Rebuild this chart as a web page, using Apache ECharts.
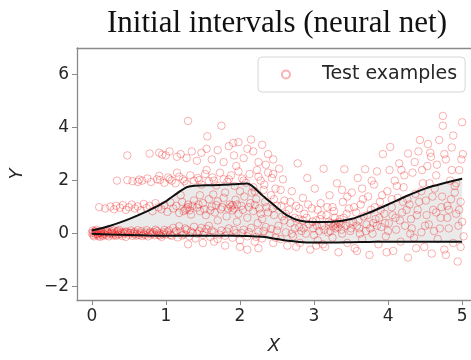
<!DOCTYPE html>
<html>
<head>
<meta charset="utf-8">
<script src="https://cdn.jsdelivr.net/npm/echarts@6/dist/echarts.min.js"></script>
<style>
  html, body { margin: 0; padding: 0; background: #fff; }
  #chart { width: 471px; height: 360px; }
</style>
</head>
<body>
<div id="chart"></div>
<script>
// interval curves
var curveX = [0, 0.25, 0.5, 0.75, 1.0, 1.15, 1.3, 1.6, 1.9, 2.1, 2.3, 2.5, 2.65, 2.8, 3.0, 3.25, 3.5, 3.75, 4.0, 4.25, 4.5, 4.75, 5.0];
var upperY = [0.12, 0.3, 0.55, 0.85, 1.22, 1.52, 1.77, 1.83, 1.86, 1.89, 1.45, 0.98, 0.67, 0.5, 0.44, 0.45, 0.55, 0.8, 1.1, 1.42, 1.7, 1.9, 2.07];
var lowerY = [0.0, -0.03, -0.05, -0.07, -0.08, -0.08, -0.08, -0.08, -0.08, -0.09, -0.12, -0.2, -0.27, -0.31, -0.33, -0.33, -0.32, -0.31, -0.3, -0.3, -0.3, -0.3, -0.3];

// test examples
var band0 = [[0.00,0.02],[0.02,-0.05],[0.04,0.08],[0.05,-0.02],[0.07,0.05],[0.09,-0.08],[0.10,0.03],[0.12,0.10],[0.14,-0.04],[0.16,0.01],[0.18,0.07],[0.20,-0.06],[0.22,0.04],[0.24,-0.01],[0.27,0.09],[0.29,-0.07],[0.31,0.02],[0.34,0.06],[0.36,-0.03],[0.39,0.05],[0.41,-0.09],[0.44,0.01],[0.47,0.08],[0.50,-0.04],[0.52,0.03],[0.55,-0.08],[0.58,0.06],[0.61,0.00],[0.64,-0.05],[0.67,0.09],[0.70,-0.02],[0.73,0.04],[0.76,-0.10],[0.79,0.07],[0.82,0.01],[0.85,-0.06],[0.88,0.10],[0.91,0.02],[0.94,-0.12],[0.97,0.05],[1.00,-0.03],[1.04,0.12],[1.08,-0.08],[1.12,0.04],[1.16,-0.14],[1.20,0.08],[1.24,-0.02],[1.28,0.15],[1.32,-0.10],[1.36,0.03],[1.40,-0.18],[1.45,0.10],[1.50,-0.05],[1.55,0.18],[1.60,-0.12],[1.65,0.05],[1.70,-0.20],[1.75,0.12],[1.80,-0.08],[1.85,0.20],[1.90,-0.15],[1.95,0.02],[2.00,-0.25],[2.05,0.15],[2.10,-0.10],[2.15,0.22],[2.20,-0.30],[2.25,0.08],[2.30,-0.18],[2.35,0.25],[2.40,-0.05],[2.45,-0.35],[2.50,0.12],[0.01,0.12],[0.03,-0.10],[0.06,0.15],[0.08,0.00],[0.11,-0.12],[0.13,0.06],[0.15,-0.09],[0.19,0.12],[0.23,-0.10],[0.26,0.03],[0.30,0.12],[0.33,-0.08],[0.37,0.14],[0.42,0.04],[0.46,-0.12],[0.53,0.12],[0.57,-0.01],[0.62,0.13],[0.68,-0.09],[0.74,0.13],[0.80,-0.03],[0.86,0.15],[0.92,-0.07],[0.98,0.14],[1.10,0.22],[1.18,0.28],[1.26,0.20],[1.38,0.26],[1.48,0.22],[1.58,0.30],[1.30,-0.40],[1.50,-0.35],[1.80,-0.45],[2.00,-0.50],[2.10,-0.60],[1.65,-0.30],[2.25,-0.55],
  [0.02,0.05],[0.05,0.10],[0.08,-0.04],[0.12,0.02],[0.17,-0.02],[0.21,0.09],[0.28,0.00],[0.32,-0.04],[0.35,0.10],[0.40,-0.02],[0.45,0.07],[0.49,0.03],[0.56,0.04],[0.60,-0.07],[0.66,0.02],[0.72,-0.05],[0.78,0.02],[0.84,0.05],[0.90,-0.04],[0.96,-0.02],[1.02,0.06],[1.06,-0.05],[1.14,0.10],[1.22,-0.07],[1.34,0.08],[1.42,0.00],[1.52,0.05],[1.62,0.12],[1.72,-0.03],[1.82,0.08],[1.92,0.14],[2.02,0.02],[2.12,0.06],[2.22,-0.12],[2.32,0.10],[2.42,0.18],[2.48,-0.15]];
var band1 = [[0.10,1.00],[0.18,0.95],[0.25,1.02],[0.30,0.92],[0.33,1.05],[0.38,0.98],[0.42,1.08],[0.46,0.90],[0.50,1.00],[0.54,1.10],[0.58,0.95],[0.62,1.03],[0.66,0.88],[0.70,1.12],[0.74,0.97],[0.78,1.05],[0.82,0.85],[0.86,1.15],[0.90,1.00],[0.94,0.92],[0.98,1.08],[1.02,0.82],[1.06,1.18],[1.10,0.95],[1.14,1.05],[1.18,0.78],[1.22,1.20],[1.26,0.90],[1.30,1.10],[1.34,0.72],[1.38,1.25],[1.42,0.98],[1.46,0.85],[1.50,1.15],[1.54,0.70],[1.58,1.30],[1.62,1.02],[1.66,0.80],[1.70,1.22],[1.74,0.92],[1.78,1.35],[1.82,0.65],[1.86,1.10],[1.90,0.88],[1.94,1.28],[1.98,0.75],[2.02,1.05],[2.06,1.40],[2.10,0.60],[2.14,1.15],[2.18,0.85],[2.22,1.30],[2.26,0.95],[2.30,0.55],[2.34,1.20],[2.38,0.80],[2.42,1.45],[2.46,0.70],[2.50,1.05],[1.28,0.95],[1.32,0.88],[1.30,1.00],[1.88,1.02],[1.92,0.95],[1.90,1.08],
  [1.24,0.85],[1.36,1.05],[1.44,1.10],[1.52,0.92],[1.60,0.88],[1.68,1.08],[1.76,1.00],[1.84,0.95],[1.96,1.10],[2.04,0.90],[2.12,1.00],[2.20,1.08],[2.28,0.75],[2.36,1.00],[2.44,0.95],[1.64,1.48],[1.80,1.55],[2.00,1.60],[2.16,1.55],[2.32,1.65],[1.46,1.45],[2.46,1.30],[1.20,1.45],[1.70,0.50],[1.96,0.45],[2.24,0.40]];
var band2 = [[0.34,2.00],[0.48,2.02],[0.55,1.98],[0.64,2.04],[0.68,2.00],[0.75,2.08],[0.80,1.95],[0.91,2.18],[0.92,2.02],[0.98,1.92],[1.03,2.12],[1.08,2.00],[1.13,1.90],[1.18,2.15],[1.23,2.05],[1.28,1.88],[1.33,2.20],[1.38,2.00],[1.43,2.10],[1.48,1.85],[1.53,2.25],[1.58,1.98],[1.63,2.12],[1.68,1.82],[1.73,2.30],[1.78,2.05],[1.83,1.95],[1.88,2.20],[1.93,1.80],[1.98,2.35],[2.03,2.08],[2.08,1.92],[2.13,2.25],[2.18,1.75],[2.23,2.40],[2.28,2.00],[2.33,1.85],[2.38,2.30],[2.43,2.10],[2.48,1.70],[2.53,2.45],[2.58,2.05],
  [1.05,2.05],[1.25,1.98],[1.45,2.02],[1.65,2.00],[1.85,2.05],[2.05,2.00],[2.25,2.15],[2.45,2.25],[1.15,2.30],[1.55,2.40],[1.95,2.55],[2.35,2.60],[2.20,1.60],[2.55,1.65],[0.62,1.95],[0.88,2.05]];
var band3 = [[0.48,2.95],[0.78,3.02],[0.91,3.05],[0.95,2.98],[1.00,2.95],[1.05,3.10],[1.15,2.90],[1.20,3.00],[1.28,2.85],[1.35,3.10],[1.42,2.75],[1.48,3.05],[1.55,3.20],[1.62,2.80],[1.70,3.15],[1.78,2.70],[1.85,3.30],[1.92,2.95],[1.98,3.45],[2.05,2.85],[2.10,3.20],[2.18,3.10],[2.25,2.70],[2.30,3.35],[2.38,3.00],[2.45,2.80],[1.30,4.25],[1.75,4.07],[1.56,3.67],[1.91,3.42],[2.15,3.55]];
var cloud = [[2.52,0.30],[2.55,-0.20],[2.57,0.65],[2.60,1.25],[2.62,0.05],[2.64,-0.45],[2.66,0.90],[2.68,0.40],[2.70,1.60],[2.72,-0.10],[2.74,0.20],[2.76,1.05],[2.78,2.65],[2.79,0.55],[2.81,-0.35],[2.83,0.10],[2.85,1.35],[2.87,0.75],[2.89,0.00],[2.91,2.10],[2.93,0.35],[2.95,-0.60],[2.97,0.95],[2.99,0.20],[3.01,1.70],[3.03,0.50],[3.05,-0.25],[3.07,0.10],[3.09,1.15],[3.11,0.30],[3.13,2.45],[3.15,-0.50],[3.17,0.70],[3.19,0.05],[3.21,1.45],[3.23,0.40],[3.25,-0.15],[3.27,0.85],[3.29,0.20],[3.31,1.90],[3.33,-0.70],[3.35,0.55],[3.37,0.15],[3.39,1.20],[3.41,2.43],[3.43,0.30],[3.45,-0.35],[3.47,0.95],[3.49,0.10],[3.28,0.35],[3.32,0.25],[3.30,0.40],[3.26,0.28],[3.34,0.45],[3.51,1.55],[3.53,0.45],[3.55,-0.55],[3.57,0.80],[3.59,2.10],[3.61,0.20],[3.63,1.10],[3.65,-0.20],[3.67,0.65],[3.69,2.43],[3.71,0.35],[3.73,1.40],[3.75,-0.80],[3.77,0.90],[3.79,0.00],[3.81,1.85],[3.83,0.55],[3.85,2.35],[3.87,-0.40],[3.89,1.20],[3.91,0.25],[3.93,3.00],[3.95,0.75],[3.97,-0.10],[3.99,1.60],[4.01,0.40],[4.03,3.27],[4.05,1.00],[4.07,-0.65],[4.09,2.00],[4.11,0.15],[4.13,1.35],[4.15,2.65],[4.17,-0.30],[4.19,0.80],[4.21,1.75],[4.23,0.30],[4.27,3.02],[4.27,-0.90],[4.29,1.10],[4.31,0.55],[4.33,2.30],[4.35,-0.15],[4.37,1.50],[4.39,0.70],[4.41,3.10],[4.43,3.53],[4.45,0.05],[4.47,1.90],[4.49,-0.50],[4.51,1.25],[4.53,2.55],[4.54,3.38],[4.55,0.35],[4.57,3.05],[4.59,-0.75],[4.61,0.90],[4.63,1.70],[4.65,2.20],[4.67,-0.20],[4.69,3.53],[4.71,0.60],[4.73,1.40],[4.74,4.07],[4.74,4.44],[4.76,-0.60],[4.78,2.80],[4.80,1.05],[4.82,0.20],[4.84,2.00],[4.86,3.25],[4.88,-0.35],[4.90,1.55],[4.92,0.75],[4.94,-1.05],[4.96,2.40],[4.98,1.20],[5.00,4.20],[5.00,0.45],[5.01,3.00],[5.02,-0.10],[2.60,0.50],[2.70,0.00],[2.80,0.25],[2.90,0.60],[3.00,-0.05],[3.10,0.70],[3.20,0.45],[3.40,0.60],[3.50,0.20],[3.60,0.50],[3.70,0.10],[3.80,0.40],[3.90,0.90],[4.00,0.10],[4.10,0.60],[4.20,1.20],[4.30,0.00],[4.40,0.90],[4.50,0.30],[4.60,1.40],[4.70,0.20],[4.80,0.60],[4.90,1.80],[4.95,0.30],[4.85,1.30],[4.65,0.80],[4.45,1.60],[4.25,0.90],[4.05,1.30],[3.85,0.30],[3.65,1.70],[3.45,1.40],[3.25,1.00],[3.05,0.90],[2.85,0.50],
  [2.56,1.05],[2.62,0.75],[2.68,1.20],[2.74,0.60],[2.80,0.95],[2.86,0.20],[2.92,1.10],[2.98,0.45],[3.04,0.30],[3.08,0.55],[3.14,0.15],[3.18,1.00],[3.22,0.10],[3.28,0.60],[3.36,0.35],[3.38,0.00],[3.44,0.75],[3.48,0.40],[3.54,1.00],[3.58,0.30],[3.62,0.00],[3.66,1.30],[3.72,0.70],[3.76,0.20],[3.82,1.00],[3.88,0.60],[3.92,1.45],[3.96,0.40],[4.02,2.40],[4.06,0.70],[4.12,1.80],[4.16,0.50],[4.22,2.20],[4.26,1.30],[4.32,0.20],[4.36,2.70],[4.42,1.20],[4.46,2.40],[4.52,0.70],[4.56,1.90],[4.62,0.10],[4.66,2.60],[4.72,1.00],[4.76,3.00],[4.82,0.90],[4.86,2.40],[4.92,1.90],[4.96,0.90],[4.99,2.80],[4.88,3.70],[4.58,2.90],[4.18,2.40],[3.78,2.00],[3.38,1.65],[3.12,-0.40],[3.58,-0.65],[3.98,-0.70],[4.38,-0.55],[4.78,-0.80],[4.98,-0.50],[3.03,-0.45],[2.76,-0.50]];

var xTicks = [0, 1, 2, 3, 4, 5];
var yTicks = [-2, 0, 2, 4, 6];

var testPoints = band0.concat(band1, band2, band3, cloud);
var upperLine = curveX.map(function (x, i) { return [x, upperY[i]]; });
var lowerLine = curveX.map(function (x, i) { return [x, lowerY[i]]; });

var spine = { show: true, onZero: false, lineStyle: { color: "#8a8a8a", width: 1.3 } };
var tickLabel = { color: "#262626", fontSize: 17, fontFamily: "DejaVu Sans" };
function minus(v) { return v < 0 ? "\u2212" + Math.abs(v) : String(v); }

var chart = echarts.init(document.querySelector("#chart"));
chart.setOption({
  animation: false,
  graphic: [{
    type: "text",
    x: 277,
    y: 24,
    style: {
      text: "Initial intervals (neural net)",
      font: "31px 'Liberation Serif'",
      fill: "#111",
      textAlign: "center",
      textVerticalAlign: "middle"
    }
  }],
  grid: { left: 76, top: 48, right: 0, bottom: 52 },
  legend: {
    left: 258,
    top: 57,
    padding: [8, 8, 8, 23],
    itemWidth: 30,
    itemHeight: 8,
    borderColor: "#d6d6d6",
    borderWidth: 1,
    borderRadius: 4,
    backgroundColor: "rgba(255,255,255,0.85)",
    textStyle: { color: "#262626", fontSize: 19, fontFamily: "DejaVu Sans", padding: [0, 0, 0, 16] },
    data: [{ name: "Test examples", icon: "circle" }]
  },
  xAxis: [{
    type: "value",
    min: -0.2,
    max: 5.12,
    name: "X",
    nameLocation: "middle",
    nameGap: 37,
    nameTextStyle: { color: "#262626", fontSize: 18, fontStyle: "italic", fontFamily: "DejaVu Sans" },
    axisLine: spine,
    axisTick: { show: true, length: 5, lineStyle: { color: "#8a8a8a" }, customValues: xTicks },
    axisLabel: Object.assign({ margin: 8, customValues: xTicks }, tickLabel),
    splitLine: { show: false }
  }, {
    type: "value",
    position: "top",
    min: -0.2,
    max: 5.12,
    axisLine: spine,
    axisTick: { show: false },
    axisLabel: { show: false },
    splitLine: { show: false }
  }],
  yAxis: {
    type: "value",
    min: -2.5,
    max: 7,
    name: "Y",
    nameLocation: "middle",
    nameGap: 51,
    nameTextStyle: { color: "#262626", fontSize: 18, fontStyle: "italic", fontFamily: "DejaVu Sans" },
    axisLine: spine,
    axisTick: { show: true, length: 5, lineStyle: { color: "#8a8a8a" }, customValues: yTicks },
    axisLabel: Object.assign({ margin: 8, customValues: yTicks, formatter: minus }, tickLabel),
    splitLine: { show: false }
  },
  series: [
    {
      // gray band between the two curves
      type: "custom",
      z: 1,
      silent: true,
      data: [[0, 0]],
      renderItem: function (params, api) {
        var pts = [];
        for (var i = 0; i < curveX.length; i++) pts.push(api.coord([curveX[i], upperY[i]]));
        for (var j = curveX.length - 1; j >= 0; j--) pts.push(api.coord([curveX[j], lowerY[j]]));
        return {
          type: "polygon",
          shape: { points: pts, smooth: 0 },
          style: { fill: "rgba(200,200,200,0.38)" }
        };
      }
    },
    {
      name: "Test examples",
      type: "scatter",
      z: 3,
      symbol: "circle",
      symbolSize: 7.5,
      itemStyle: { color: "rgba(0,0,0,0)", borderColor: "rgba(240,0,0,0.38)", borderWidth: 1 },
      data: testPoints
    },
    {
      name: "upper",
      type: "line",
      z: 4,
      smooth: 0.25,
      symbol: "none",
      lineStyle: { color: "#111", width: 2 },
      data: upperLine
    },
    {
      name: "lower",
      type: "line",
      z: 4,
      smooth: 0.25,
      symbol: "none",
      lineStyle: { color: "#111", width: 2 },
      data: lowerLine
    }
  ]
});
</script>
</body>
</html>
